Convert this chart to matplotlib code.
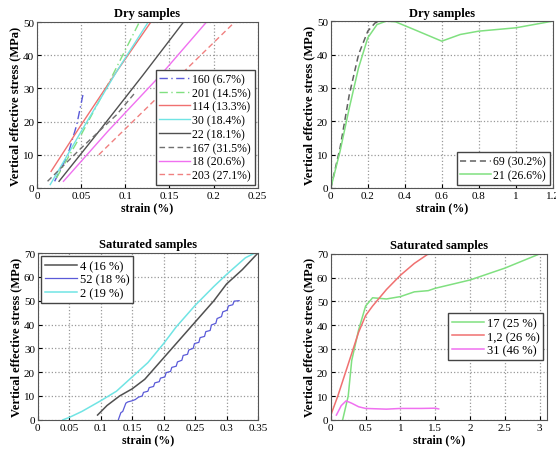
import matplotlib
matplotlib.use("Agg")
import matplotlib.pyplot as plt

plt.rcParams['font.family'] = ['Liberation Serif', 'DejaVu Serif']
plt.rcParams['font.size'] = 8

# --- Dry samples (left) ---
dry_names = ["160 (6.7%)", "201 (14.5%)", "114 (13.3%)", "30 (18.4%)",
             "22 (18.1%)", "167 (31.5%)", "18 (20.6%)", "203 (27.1%)"]
dry_x = [[0.020, 0.035, 0.045, 0.052],
         [0.022, 0.050, 0.080, 0.116],
         [0.016, 0.050, 0.090, 0.129],
         [0.015, 0.050, 0.090, 0.126],
         [0.025, 0.070, 0.120, 0.166],
         [0.012, 0.050, 0.090, 0.112],
         [0.030, 0.080, 0.140, 0.192],
         [0.070, 0.120, 0.170, 0.224]]
dry_y = [[2, 10, 19, 28],
         [3, 16, 31, 50],
         [5, 19, 35, 50],
         [1, 17, 35, 50],
         [2, 17, 34, 50],
         [2, 12, 22, 29],
         [2, 17, 34, 50],
         [10, 23, 36, 50]]
dry_col = ["#5a5ad8", "#80e080", "#f07070", "#70e4e4",
           "#505050", "#707070", "#f070f0", "#f08080"]
dry_ls = ["-.", "-.", "-", "-", "-", "--", "-", "--"]

# --- Dry samples (right) ---
s69_x = [0, 0.05, 0.10, 0.15, 0.20, 0.24, 0.27]
s69_y = [0, 12, 28, 40, 47, 49.5, 50]
s21_x = [0, 0.05, 0.10, 0.15, 0.20, 0.25, 0.30, 0.35, 0.45, 0.60, 0.70, 0.80, 1.0, 1.2]
s21_y = [0, 11, 24, 36, 45, 49, 50, 49.8, 47.5, 44, 46, 47, 48, 50]

# --- Saturated samples (left) ---
s4_x = [0.095, 0.11, 0.13, 0.15, 0.17, 0.20, 0.23, 0.26, 0.28, 0.30, 0.325, 0.35]
s4_y = [2, 6, 10, 13, 17, 26, 35, 44, 50, 57, 63, 70]
s52_x = [0.128, 0.132, 0.135, 0.140, 0.143, 0.150, 0.155, 0.160, 0.166, 0.168,
         0.175, 0.177, 0.184, 0.186, 0.193, 0.195, 0.202, 0.204, 0.211, 0.213,
         0.220, 0.222, 0.229, 0.231, 0.238, 0.240, 0.247, 0.249, 0.256, 0.258,
         0.265, 0.267, 0.274, 0.276, 0.283, 0.285, 0.292, 0.294, 0.301, 0.303,
         0.310, 0.312, 0.320]
s52_y = [0, 3, 3.5, 7, 7.5, 8, 8.5, 9.5, 10, 11.5, 12, 13.5, 14, 15.5, 16, 17.5,
         18, 19.8, 20.3, 22, 22.5, 24.3, 25, 27, 27.5, 29.3, 30, 32, 32.5, 34.5,
         35, 37, 37.5, 39.8, 40.5, 42.5, 43.3, 45.3, 46, 47.8, 48.3, 49.8, 50]
s2_x = [0.04, 0.05, 0.07, 0.10, 0.125, 0.15, 0.175, 0.20, 0.22, 0.25, 0.28, 0.30, 0.33, 0.345]
s2_y = [0, 1, 3.5, 8, 12, 18, 24, 32, 39, 48, 56, 61, 68, 70]

# --- Saturated samples (right) ---
s17_x = [0.17, 0.25, 0.30, 0.40, 0.50, 0.60, 0.80, 1.0, 1.2, 1.4, 1.5, 2.0, 2.5, 3.0]
s17_y = [0, 10, 25, 38, 48, 51.5, 51, 52, 54, 54.5, 55.5, 59, 64, 70]
s12_x = [0, 0.1, 0.2, 0.3, 0.4, 0.5, 0.6, 0.8, 1.0, 1.2, 1.4]
s12_y = [2, 10, 19, 28, 37, 44, 48, 55, 61, 66, 70]
s31_x = [0.08, 0.15, 0.22, 0.30, 0.40, 0.50, 0.80, 1.0, 1.3, 1.5, 1.55]
s31_y = [2, 6, 8, 7, 5.5, 4.8, 4.5, 4.8, 4.8, 4.9, 4.6]

DASH = (4, 2.5)
DASHDOT = (6, 2.5, 1, 2.5)

fig = plt.figure(figsize=(5.56, 4.52), dpi=100)
ax1 = fig.add_axes([0.0665, 0.582, 0.397, 0.367])
ax2 = fig.add_axes([0.595, 0.582, 0.399, 0.369])
ax3 = fig.add_axes([0.068, 0.069, 0.396, 0.369])
ax4 = fig.add_axes([0.595, 0.069, 0.388, 0.367])


def style(ax, title):
    ax.set_title(title, fontsize=9, pad=4, fontweight='bold')
    ax.set_xlabel("strain (%)", fontsize=8.5, labelpad=1, fontweight='bold')
    ax.set_ylabel("Vertical effective stress (MPa)", fontsize=9, labelpad=1, fontweight='bold')
    ax.grid(True, linestyle=':', color='#999999', linewidth=0.9)
    ax.tick_params(direction='in', length=3, pad=2, labelsize=8)
    for s in ax.spines.values():
        s.set_color('#555555')


def leg(ax, loc, fs):
    ax.legend(loc=loc, fontsize=fs, handlelength=2.6, handletextpad=0.2,
              borderpad=0.3, labelspacing=0.15, borderaxespad=0.25,
              fancybox=False, edgecolor='#444444', framealpha=1)


for x, y, n, c, ls in zip(dry_x, dry_y, dry_names, dry_col, dry_ls):
    line, = ax1.plot(x, y, color=c, lw=1.0, label=n)
    if ls == "--":
        line.set_dashes(DASH)
    elif ls == "-.":
        line.set_dashes(DASHDOT)
ax1.set_xlim(0, 0.25)
ax1.set_ylim(0, 50)
ax1.set_xticks([0, 0.05, 0.1, 0.15, 0.2, 0.25])
ax1.set_xticklabels(["0", "0.05", "0.1", "0.15", "0.2", "0.25"])
style(ax1, "Dry samples")
leg(ax1, 'lower right', 8.5)

ax2.plot(s69_x, s69_y, color='#606060', lw=1.1, dashes=DASH, label="69 (30.2%)")
ax2.plot(s21_x, s21_y, '-', color='#80e080', lw=1.1, label="21 (26.6%)")
ax2.set_xlim(0, 1.2)
ax2.set_ylim(0, 50)
ax2.set_xticks([0, 0.2, 0.4, 0.6, 0.8, 1.0, 1.2])
ax2.set_xticklabels(["0", "0.2", "0.4", "0.6", "0.8", "1", "1.2"])
style(ax2, "Dry samples")
leg(ax2, 'lower right', 8.5)

ax3.plot(s4_x, s4_y, '-', color='#505050', lw=1.1, label="4 (16 %)")
ax3.plot(s52_x, s52_y, '-', color='#5a5ad8', lw=0.9, label="52 (18 %)")
ax3.plot(s2_x, s2_y, '-', color='#70e4e4', lw=1.1, label="2 (19 %)")
ax3.set_xlim(0, 0.35)
ax3.set_ylim(0, 70)
ax3.set_xticks([0, 0.05, 0.1, 0.15, 0.2, 0.25, 0.3, 0.35])
ax3.set_xticklabels(["0", "0.05", "0.1", "0.15", "0.2", "0.25", "0.3", "0.35"])
style(ax3, "Saturated samples")
leg(ax3, 'upper left', 9)

ax4.plot(s17_x, s17_y, '-', color='#80e080', lw=1.1, label="17 (25 %)")
ax4.plot(s12_x, s12_y, '-', color='#f07070', lw=1.1, label="1,2 (26 %)")
ax4.plot(s31_x, s31_y, '-', color='#f070f0', lw=1.1, label="31 (46 %)")
ax4.set_xlim(0, 3.1)
ax4.set_ylim(0, 70)
ax4.set_xticks([0, 0.5, 1, 1.5, 2, 2.5, 3])
ax4.set_xticklabels(["0", "0.5", "1", "1.5", "2", "2.5", "3"])
style(ax4, "Saturated samples")
leg(ax4, 'center right', 9)

fig.savefig("out.png", dpi=100)
